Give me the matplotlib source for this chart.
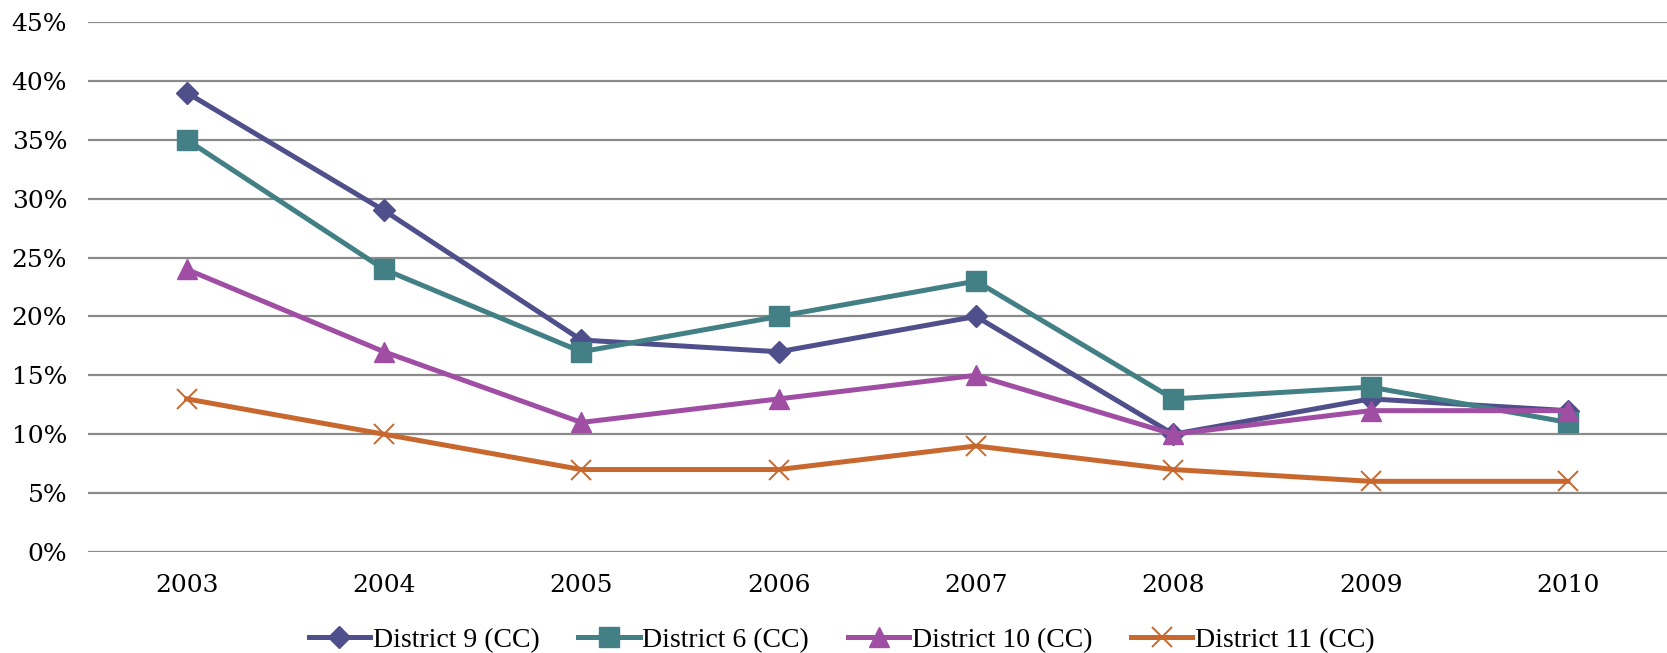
import matplotlib.pyplot as plt
from matplotlib.ticker import FuncFormatter

years = ['2003', '2004', '2005', '2006', '2007', '2008', '2009', '2010']
district_9 = [39, 29, 18, 17, 20, 10, 13, 12]
district_6 = [35, 24, 17, 20, 23, 13, 14, 11]
district_10 = [24, 17, 11, 13, 15, 10, 12, 12]
district_11 = [13, 10, 7, 7, 9, 7, 6, 6]

fig = plt.figure(figsize=(16.67, 6.53), dpi=100)
ax = fig.add_axes([0.0528, 0.1547, 0.947, 0.8116])

x = list(range(len(years)))
ax.plot(x, district_9, color='#4f4f8b', lw=3.6, marker='D', ms=11,
        label='District 9 (CC)')
ax.plot(x, district_6, color='#428085', lw=3.6, marker='s', ms=15,
        label='District 6 (CC)')
ax.plot(x, district_10, color='#a04ea4', lw=3.6, marker='^', ms=14.5,
        label='District 10 (CC)')
ax.plot(x, district_11, color='#c8682f', lw=3.6, marker='x', ms=14, mew=1.4,
        label='District 11 (CC)')

ax.set_xlim(-0.5, len(years) - 0.5)
ax.set_ylim(0, 45)
ax.set_yticks(range(0, 46, 5))
ax.yaxis.set_major_formatter(FuncFormatter(lambda v, p: f'{int(v)}%'))
ax.set_xticks(x)
ax.set_xticklabels(years)
ax.tick_params(length=0, labelsize=18, pad=16)
ax.tick_params(axis='y', pad=15)
for lbl in ax.get_xticklabels() + ax.get_yticklabels():
    lbl.set_fontfamily('DejaVu Serif')
ax.grid(axis='y', color='#8a8a8a', lw=1.6)
ax.set_axisbelow(True)
for s in ax.spines.values():
    s.set_visible(False)

fig.legend(loc='center', bbox_to_anchor=(0.505, 0.02), ncol=4, frameon=False,
           prop={'family': 'Liberation Serif', 'size': 20},
           handlelength=2.2, handletextpad=0.1, columnspacing=1.4)

fig.savefig('out.png', dpi=100)
